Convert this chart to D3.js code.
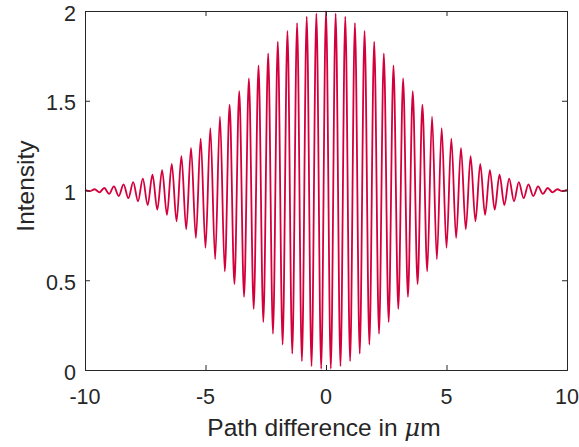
<!DOCTYPE html>
<html>
<head>
<meta charset="utf-8">
<script src="https://cdn.jsdelivr.net/npm/d3@7"></script>
<style>
  html, body { margin: 0; padding: 0; background: #fff; }
  svg { display: block; font-family: "Liberation Sans", Arial, Helvetica, sans-serif; }
</style>
</head>
<body>
<svg id="chart" width="579" height="447"></svg>
<script>
// Interferogram: fringe extrema (alternating maxima / minima) every 0.2 µm
const pathDiff = [
  -10.0, -9.8, -9.6, -9.4, -9.2, -9.0, -8.8, -8.6, -8.4, -8.2,
  -8.0, -7.8, -7.6, -7.4, -7.2, -7.0, -6.8, -6.6, -6.4, -6.2,
  -6.0, -5.8, -5.6, -5.4, -5.2, -5.0, -4.8, -4.6, -4.4, -4.2,
  -4.0, -3.8, -3.6, -3.4, -3.2, -3.0, -2.8, -2.6, -2.4, -2.2,
  -2.0, -1.8, -1.6, -1.4, -1.2, -1.0, -0.8, -0.6, -0.4, -0.2,
  0.0,
  0.2, 0.4, 0.6, 0.8, 1.0, 1.2, 1.4, 1.6, 1.8, 2.0,
  2.2, 2.4, 2.6, 2.8, 3.0, 3.2, 3.4, 3.6, 3.8, 4.0,
  4.2, 4.4, 4.6, 4.8, 5.0, 5.2, 5.4, 5.6, 5.8, 6.0,
  6.2, 6.4, 6.6, 6.8, 7.0, 7.2, 7.4, 7.6, 7.8, 8.0,
  8.2, 8.4, 8.6, 8.8, 9.0, 9.2, 9.4, 9.6, 9.8, 10.0
];
const intensity = [
  1.003, 0.996, 1.007, 0.990, 1.014, 0.981, 1.023, 0.969, 1.034, 0.957,
  1.047, 0.940, 1.066, 0.919, 1.088, 0.893, 1.114, 0.864, 1.148, 0.828,
  1.191, 0.784, 1.237, 0.735, 1.289, 0.681, 1.348, 0.618, 1.411, 0.550,
  1.478, 0.479, 1.554, 0.408, 1.625, 0.340, 1.697, 0.267, 1.764, 0.202,
  1.829, 0.141, 1.889, 0.091, 1.933, 0.049, 1.968, 0.021, 1.987, 0.007,
  2.000,
  0.007, 1.987, 0.021, 1.968, 0.049, 1.933, 0.091, 1.889, 0.141, 1.829,
  0.202, 1.764, 0.267, 1.697, 0.340, 1.625, 0.408, 1.554, 0.479, 1.478,
  0.550, 1.411, 0.618, 1.348, 0.681, 1.289, 0.735, 1.237, 0.784, 1.191,
  0.828, 1.148, 0.864, 1.114, 0.893, 1.088, 0.919, 1.066, 0.940, 1.047,
  0.957, 1.034, 0.969, 1.023, 0.981, 1.014, 0.990, 1.007, 0.996, 1.003
];
const xTicks = [-10, -5, 0, 5, 10];
const yTicks = [0, 0.5, 1, 1.5, 2];
const xTickLabels = ["-10", "-5", "0", "5", "10"];
const yTickLabels = ["0", "0.5", "1", "1.5", "2"];

const svg = d3.select("#chart");
const plotLeft = 85, plotRight = 567, plotTop = 11, plotBottom = 370;
const axisColor = "#262626";
const textColor = "#262626";
const lineColor = "#d4003c";
const tickFont = 21.5;
const titleFont = 24.5;

const x = d3.scaleLinear().domain([-10, 10]).range([plotLeft, plotRight]);
const y = d3.scaleLinear().domain([0, 2]).range([plotBottom, plotTop]);

const pts = pathDiff.map((d, i) => [d, intensity[i]]);

// signal curve
svg.append("path")
  .datum(pts)
  .attr("fill", "none")
  .attr("stroke", lineColor)
  .attr("stroke-width", 1.8)
  .attr("stroke-linejoin", "round")
  .attr("d", d3.line().x(d => x(d[0])).y(d => y(d[1])).curve(d3.curveMonotoneX));

// axes box with inward ticks on all four sides
const tickLen = 5;
const bottomAxis = d3.axisBottom(x).tickValues(xTicks).tickSize(-tickLen).tickFormat("");
const topAxis = d3.axisTop(x).tickValues(xTicks).tickSize(-tickLen).tickFormat("");
const leftAxis = d3.axisLeft(y).tickValues(yTicks).tickSize(-tickLen).tickFormat("");
const rightAxis = d3.axisRight(y).tickValues(yTicks).tickSize(-tickLen).tickFormat("");

function styleAxis(g) {
  g.selectAll("path").attr("stroke", axisColor).attr("stroke-width", 1);
  g.selectAll("line").attr("stroke", axisColor).attr("stroke-width", 1);
}
svg.append("g").attr("transform", `translate(0,${plotBottom})`).call(bottomAxis).call(styleAxis);
svg.append("g").attr("transform", `translate(0,${plotTop})`).call(topAxis).call(styleAxis);
svg.append("g").attr("transform", `translate(${plotLeft},0)`).call(leftAxis).call(styleAxis);
svg.append("g").attr("transform", `translate(${plotRight},0)`).call(rightAxis).call(styleAxis);

// tick labels
svg.append("g").selectAll("text")
  .data(xTicks)
  .join("text")
  .attr("x", d => x(d))
  .attr("y", plotBottom + 34)
  .attr("text-anchor", "middle")
  .attr("fill", textColor)
  .attr("font-size", tickFont)
  .text((d, i) => xTickLabels[i]);

svg.append("g").selectAll("text")
  .data(yTicks)
  .join("text")
  .attr("x", plotLeft - 9)
  .attr("y", d => y(d) + 9.5)
  .attr("text-anchor", "end")
  .attr("fill", textColor)
  .attr("font-size", tickFont)
  .text((d, i) => yTickLabels[i]);

// axis titles
const xt = svg.append("text")
  .attr("x", 324)
  .attr("y", 436)
  .attr("text-anchor", "middle")
  .attr("fill", textColor)
  .attr("font-size", titleFont);
xt.append("tspan").text("Path difference in ");
xt.append("tspan").attr("font-style", "italic").attr("font-family", "'DejaVu Serif', serif").text("μ");
xt.append("tspan").text("m");

svg.append("text")
  .attr("transform", `translate(34,186) rotate(-90)`)
  .attr("text-anchor", "middle")
  .attr("fill", textColor)
  .attr("font-size", titleFont)
  .text("Intensity");
</script>
</body>
</html>
